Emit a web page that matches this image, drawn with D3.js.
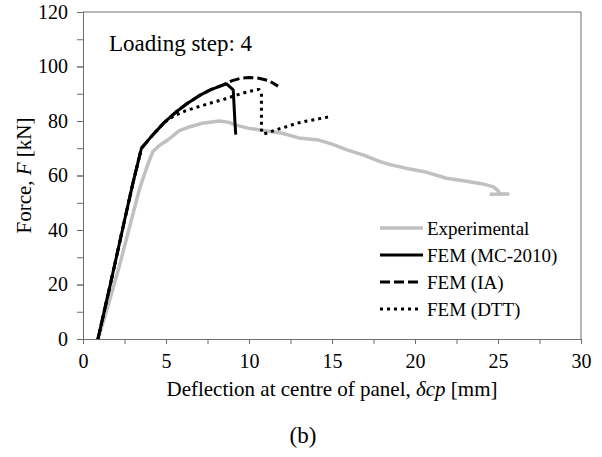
<!DOCTYPE html>
<html>
<head>
<meta charset="utf-8">
<script src="https://cdn.jsdelivr.net/npm/d3@7"></script>
<style>
  body { margin: 0; background: #fff; }
  svg text { font-family: "Liberation Serif", "Times New Roman", serif; fill: #000; }
</style>
</head>
<body>
<script>
// experimental curve
var expDefl  = [0.9, 1.5, 2.2, 2.8, 3.4, 3.9, 4.2, 4.6, 5.1, 5.8, 6.5, 7.2, 8.2, 8.8, 9.2, 10.0, 11.0, 12.0, 13.0, 14.2, 15.0, 15.9, 16.9, 17.9, 18.5, 19.5, 20.5, 21.9, 23.0, 24.0, 24.7, 25.0, 25.1, 25.6, 24.5];
var expForce = [0, 12, 27, 41, 55, 64, 68.7, 71, 73, 76.5, 78, 79.2, 80, 79.5, 78.5, 77.3, 76.4, 75.5, 73.8, 73, 71.5, 69.4, 67.5, 65.1, 64, 62.6, 61.5, 59, 58, 57, 55.9, 54.5, 53.2, 53.2, 53.1];

// FEM (MC-2010)
var mcDefl  = [0.9, 1.7, 2.5, 3.0, 3.52, 4.2, 4.9, 5.6, 6.3, 7.0, 7.7, 8.4, 8.65, 9.05, 9.15, 9.2];
var mcForce = [0, 21.5, 43.5, 57, 70, 74.9, 79.5, 83.3, 86.5, 89.3, 91.5, 93.1, 93.6, 91.4, 80, 75];

// FEM (IA)
var iaDefl  = [0.9, 1.7, 2.5, 3.0, 3.52, 4.2, 4.9, 5.6, 6.3, 7.0, 7.7, 8.4, 9.0, 9.5, 10.0, 10.6, 11.2, 11.75];
var iaForce = [0, 21.5, 43.5, 57, 70, 74.9, 79.5, 83.3, 86.5, 89.3, 91.5, 93.2, 94.8, 95.7, 96, 95.7, 94.8, 92.8];

// FEM (DTT)
var dttDefl  = [0.9, 1.7, 2.5, 3.0, 3.52, 4.2, 4.9, 5.5, 6.2, 7.0, 7.8, 8.5, 9.0, 9.6, 10.2, 10.6, 10.75, 10.75, 10.85, 11.2, 11.65, 12.3, 12.9, 13.5, 14.2, 14.8];
var dttForce = [0, 21.5, 43.5, 57, 70, 74.9, 79.5, 82, 83.8, 85.3, 86.8, 88, 89, 90.2, 91.1, 91.6, 90.2, 76.7, 75.2, 75.8, 76.8, 78, 79.2, 80, 80.8, 81.5];

var seriesNames = ["Experimental", "FEM (MC-2010)", "FEM (IA)", "FEM (DTT)"];
var xTicks = [0, 5, 10, 15, 20, 25, 30];
var yTicks = [0, 20, 40, 60, 80, 100, 120];

var width = 602, height = 457;
var margin = {top: 12, right: 21, bottom: 118, left: 83};
var serif = '"Liberation Serif", "Times New Roman", serif';

var svg = d3.select("body").append("svg")
    .attr("width", width)
    .attr("height", height)
    .attr("font-family", serif);

var xScale = d3.scaleLinear().domain([0, 30]).range([margin.left, width - margin.right]);
var yScale = d3.scaleLinear().domain([0, 120]).range([height - margin.bottom, margin.top]);

var axisColor = "#6e6e6e";

// minor ticks
svg.append("g")
    .attr("transform", "translate(0," + (height - margin.bottom) + ")")
    .call(d3.axisBottom(xScale).tickValues(d3.range(0, 30.1, 2.5)).tickSize(5).tickFormat(""));
svg.append("g")
    .attr("transform", "translate(" + margin.left + ",0)")
    .call(d3.axisLeft(yScale).tickValues(d3.range(0, 120.1, 10)).tickSize(6).tickFormat(""));

// major axes
svg.append("g")
    .attr("transform", "translate(0," + (height - margin.bottom) + ")")
    .call(d3.axisBottom(xScale).tickValues(xTicks).tickSize(5).tickPadding(10).tickSizeOuter(0));
svg.append("g")
    .attr("transform", "translate(" + margin.left + ",0)")
    .call(d3.axisLeft(yScale).tickValues(yTicks).tickSize(6).tickPadding(9).tickSizeOuter(0));

svg.selectAll("g").attr("font-family", serif);
svg.selectAll(".domain").attr("stroke", axisColor);
svg.selectAll(".tick line").attr("stroke", axisColor);
svg.selectAll(".tick text")
    .style("font-family", serif)
    .style("font-size", "20px")
    .attr("fill", "#000");

// frame top and right
svg.append("path")
    .attr("d", "M" + xScale(0) + "," + yScale(120) + "H" + xScale(30) + "V" + yScale(0))
    .attr("fill", "none")
    .attr("stroke", axisColor);

var line = d3.line()
    .x(function (d) { return xScale(d[0]); })
    .y(function (d) { return yScale(d[1]); });

function pairs(xs, ys) {
    return xs.map(function (x, i) { return [x, ys[i]]; });
}

var styles = [
    {stroke: "#c0c0c0", width: 3.5, dash: null},
    {stroke: "#000", width: 3, dash: null},
    {stroke: "#000", width: 3, dash: "10,4"},
    {stroke: "#000", width: 3, dash: "3,4"}
];
var data = [
    pairs(expDefl, expForce),
    pairs(mcDefl, mcForce),
    pairs(iaDefl, iaForce),
    pairs(dttDefl, dttForce)
];

svg.selectAll("path.series")
    .data(data)
    .enter()
    .append("path")
    .attr("class", "series")
    .attr("d", line)
    .attr("fill", "none")
    .attr("stroke", function (d, i) { return styles[i].stroke; })
    .attr("stroke-width", function (d, i) { return styles[i].width; })
    .attr("stroke-dasharray", function (d, i) { return styles[i].dash; })
    .attr("stroke-linejoin", "round");

// legend
var legend = svg.append("g").attr("transform", "translate(380,228)");
var rows = legend.selectAll("g")
    .data(seriesNames)
    .enter()
    .append("g")
    .attr("transform", function (d, i) { return "translate(0," + (i * 27) + ")"; });
rows.append("line")
    .attr("x1", 0).attr("x2", function (d, i) { return i < 2 ? 43 : 38; })
    .attr("y1", 0).attr("y2", 0)
    .attr("stroke", function (d, i) { return styles[i].stroke; })
    .attr("stroke-width", function (d, i) { return styles[i].width; })
    .attr("stroke-dasharray", function (d, i) { return styles[i].dash; });
rows.append("text")
    .attr("x", 47)
    .attr("y", 6.5)
    .style("font-size", "19px")
    .text(function (d) { return d; });

// annotation
svg.append("text")
    .attr("x", 109)
    .attr("y", 51)
    .style("font-size", "23px")
    .text("Loading step: 4");

// axis titles
var xTitle = svg.append("text")
    .attr("x", (xScale(0) + xScale(30)) / 2)
    .attr("y", 396)
    .attr("text-anchor", "middle")
    .style("font-size", "21px");
xTitle.append("tspan").text("Deflection at centre of panel, ");
xTitle.append("tspan").style("font-style", "italic").text("δcp");
xTitle.append("tspan").text(" [mm]");

var yTitle = svg.append("text")
    .attr("transform", "translate(31," + ((yScale(0) + yScale(120)) / 2) + ") rotate(-90)")
    .attr("text-anchor", "middle")
    .style("font-size", "21px");
yTitle.append("tspan").text("Force, ");
yTitle.append("tspan").style("font-style", "italic").text("F");
yTitle.append("tspan").text(" [kN]");

svg.append("text")
    .attr("x", 303)
    .attr("y", 443)
    .attr("text-anchor", "middle")
    .style("font-size", "23px")
    .text("(b)");
</script>
</body>
</html>
